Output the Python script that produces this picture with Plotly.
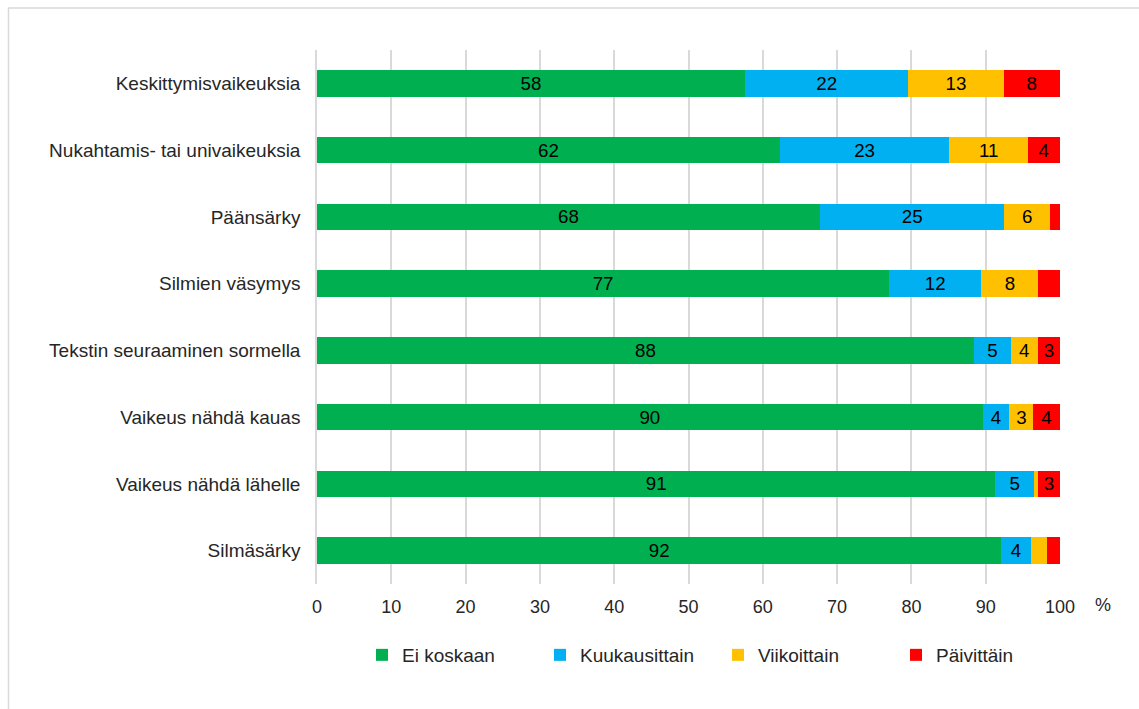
import plotly.graph_objects as go

# Oireiden esiintyvyys (%), ylhäältä alas
categories = [
    "Keskittymisvaikeuksia",
    "Nukahtamis- tai univaikeuksia",
    "Päänsärky",
    "Silmien väsymys",
    "Tekstin seuraaminen sormella",
    "Vaikeus nähdä kauas",
    "Vaikeus nähdä lähelle",
    "Silmäsärky",
]

ei_koskaan = [57.6, 62.3, 67.7, 77.0, 88.4, 89.6, 91.3, 92.1]
kuukausittain = [22.0, 22.8, 24.8, 12.4, 5.0, 3.6, 5.2, 4.0]
viikoittain = [12.8, 10.6, 6.2, 7.7, 3.6, 3.2, 0.5, 2.1]
paivittain = [7.6, 4.3, 1.3, 2.9, 3.0, 3.6, 3.0, 1.8]

series = [
    ("Ei koskaan", ei_koskaan, "#00B050"),
    ("Kuukausittain", kuukausittain, "#00B0F0"),
    ("Viikoittain", viikoittain, "#FFC000"),
    ("Päivittäin", paivittain, "#FF0000"),
]

x_ticks = list(range(0, 101, 10))

# arvomerkinnät näytetään vain riittävän leveissä osissa
LABEL_MIN = 3.0

FONT = "Arial, Liberation Sans, sans-serif"
TEXT_COLOR = "#262626"

fig = go.Figure()
for name, vals, color in series:
    labels = [f"{v:.0f}" if v >= LABEL_MIN else "" for v in vals]
    fig.add_trace(go.Bar(
        y=categories,
        x=vals,
        name=name,
        orientation="h",
        marker=dict(color=color, line=dict(width=0)),
        text=labels,
        texttemplate="%{text}",
        textposition="inside",
        insidetextanchor="middle",
        textangle=0,
        textfont=dict(size=19, color="#000000", family=FONT),
        hoverinfo="name+x+y",
    ))

W, H = 1139, 709
ML, MR, MT, MB = 317, 79, 50, 125
pw, ph = W - ML - MR, H - MT - MB


def px_x(p):
    return (p - ML) / pw


def px_y(p):
    return (H - MB - p) / ph


fig.update_layout(
    width=W,
    height=H,
    barmode="stack",
    bargap=0.6,
    margin=dict(l=ML, r=MR, t=MT, b=MB),
    paper_bgcolor="white",
    plot_bgcolor="white",
    font=dict(family=FONT, size=18, color=TEXT_COLOR),
    uniformtext=dict(mode="show", minsize=18),
    xaxis=dict(
        range=[0, 100],
        tickvals=x_ticks,
        ticktext=[str(t) for t in x_ticks],
        showgrid=True,
        gridcolor="#D9D9D9",
        gridwidth=1.5,
        zeroline=False,
        showline=False,
        ticks="outside",
        ticklen=6,
        tickcolor="rgba(0,0,0,0)",
        tickfont=dict(size=18, color=TEXT_COLOR),
        fixedrange=True,
    ),
    yaxis=dict(
        categoryorder="array",
        categoryarray=categories,
        autorange="reversed",
        showgrid=False,
        showline=True,
        linecolor="#D9D9D9",
        linewidth=1.5,
        ticks="outside",
        ticklen=11,
        tickcolor="rgba(0,0,0,0)",
        tickfont=dict(size=19, color=TEXT_COLOR),
        fixedrange=True,
    ),
    legend=dict(
        orientation="h",
        x=px_x(362),
        xanchor="left",
        y=px_y(655),
        yanchor="middle",
        font=dict(size=19, color=TEXT_COLOR),
        traceorder="normal",
        itemwidth=30,
        entrywidth=133,
        entrywidthmode="pixels",
        bgcolor="rgba(0,0,0,0)",
    ),
    annotations=[
        dict(
            text="%",
            xref="paper",
            yref="paper",
            x=px_x(1103),
            y=px_y(605),
            xanchor="center",
            yanchor="middle",
            showarrow=False,
            font=dict(size=18, color=TEXT_COLOR),
        )
    ],
    shapes=[
        dict(
            type="rect",
            xref="paper",
            yref="paper",
            x0=px_x(8.5),
            x1=px_x(W + 20),
            y0=px_y(H + 20),
            y1=px_y(8),
            line=dict(color="#D9D9D9", width=1.5),
            fillcolor="rgba(0,0,0,0)",
            layer="below",
        )
    ],
)

fig.write_html("out.html")
